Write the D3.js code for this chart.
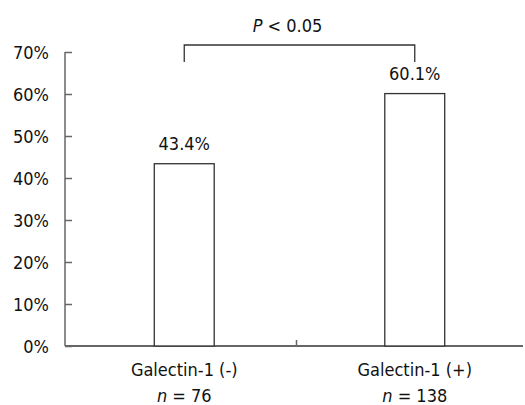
<!DOCTYPE html>
<html>
<head>
<meta charset="utf-8">
<script src="https://cdn.jsdelivr.net/npm/d3@7"></script>
<style>
	body { margin: 0; background: #fff; }
	text { font-family: "DejaVu Sans Condensed", "DejaVu Sans", sans-serif; font-stretch: condensed; fill: #111; }
</style>
</head>
<body>
<div id="chart-area"></div>
<script>
// SVG Size
let width = 525,
	height = 405;

// data
let categories = ["Galectin-1 (-)", "Galectin-1 (+)"];
let sampleSizes = [76, 138];
let percents = [43.4, 60.1];
let yTicks = [0, 10, 20, 30, 40, 50, 60, 70];
let pLabel = "0.05";

let plotLeft = 65, plotRight = 523, plotBottom = 346, plotTop = 52;

let svg = d3.select("#chart-area")
	.append("svg")
	.attr("width", width)
	.attr("height", height);

let x = d3.scaleBand()
	.domain(categories)
	.range([69, 530]);

let y = d3.scaleLinear()
	.domain([0, 70])
	.range([plotBottom, plotTop]);

let barW = x.bandwidth() * 0.26;
let cx = d => x(d) + x.bandwidth() / 2;

// y axis, ticks pointing in
let yAxis = d3.axisLeft(y)
	.tickValues(yTicks)
	.tickSize(-7)
	.tickPadding(16)
	.tickFormat(d => d + "%");

let gy = svg.append("g")
	.attr("transform", "translate(" + plotLeft + ",0)")
	.call(yAxis);
gy.select(".domain").remove();
gy.selectAll(".tick line").attr("stroke", "#666").attr("stroke-width", 1.5);
gy.selectAll(".tick text").attr("font-size", 18).attr("fill", "#111").attr("dy", "0.36em");

// axis lines
svg.append("line")
	.attr("x1", plotLeft).attr("x2", plotLeft)
	.attr("y1", y(70)).attr("y2", y(0))
	.attr("stroke", "#666").attr("stroke-width", 1.5);

svg.append("line")
	.attr("x1", plotLeft).attr("x2", plotRight)
	.attr("y1", y(0)).attr("y2", y(0))
	.attr("stroke", "#666").attr("stroke-width", 2);

// middle tick between the groups
svg.append("line")
	.attr("x1", x(categories[1]) - 3).attr("x2", x(categories[1]) - 3)
	.attr("y1", y(0)).attr("y2", y(0) - 6)
	.attr("stroke", "#666").attr("stroke-width", 1.5);

// bars
svg.selectAll("rect.bar")
	.data(categories)
	.enter()
	.append("rect")
	.attr("class", "bar")
	.attr("x", d => cx(d) - barW / 2)
	.attr("y", (d, i) => y(percents[i]))
	.attr("width", barW)
	.attr("height", (d, i) => y(0) - y(percents[i]))
	.attr("fill", "#fff")
	.attr("stroke", "#333")
	.attr("stroke-width", 1.3);

// value labels
svg.selectAll("text.val")
	.data(categories)
	.enter()
	.append("text")
	.attr("class", "val")
	.attr("x", d => cx(d))
	.attr("y", (d, i) => y(percents[i]) - 14)
	.attr("text-anchor", "middle")
	.attr("font-size", 18)
	.text((d, i) => percents[i].toFixed(1) + "%");

// category labels
let cat = svg.selectAll("g.cat")
	.data(categories)
	.enter()
	.append("g")
	.attr("class", "cat");

cat.append("text")
	.attr("x", d => cx(d))
	.attr("y", 376)
	.attr("text-anchor", "middle")
	.attr("font-size", 18)
	.text(d => d);

let nText = cat.append("text")
	.attr("x", d => cx(d))
	.attr("y", 402)
	.attr("text-anchor", "middle")
	.attr("font-size", 18);
nText.append("tspan").attr("font-style", "italic").text("n");
nText.append("tspan").text((d, i) => " = " + sampleSizes[i]);

// significance bracket
let bx1 = cx(categories[0]), bx2 = cx(categories[1]);
svg.append("path")
	.attr("d", "M" + bx1 + "," + 62 + "V45H" + bx2 + "V62")
	.attr("fill", "none")
	.attr("stroke", "#333")
	.attr("stroke-width", 1.3);

let pText = svg.append("text")
	.attr("x", (bx1 + bx2) / 2 - 12)
	.attr("y", 32)
	.attr("text-anchor", "middle")
	.attr("font-size", 18);
pText.append("tspan").attr("font-style", "italic").text("P");
pText.append("tspan").text(" < " + pLabel);
</script>
</body>
</html>
